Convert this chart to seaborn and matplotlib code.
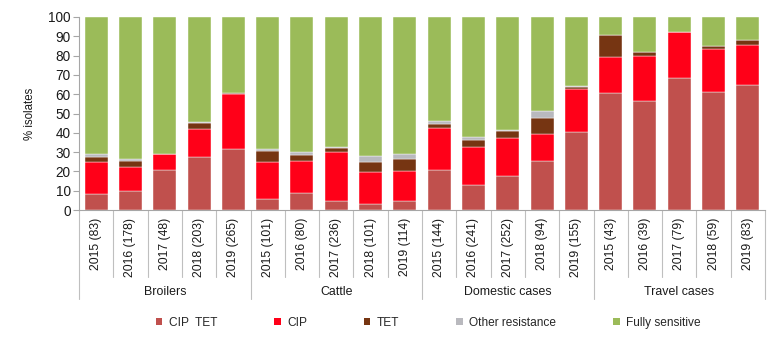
import numpy as np
import pandas as pd
import matplotlib
matplotlib.use("Agg")
import matplotlib.pyplot as plt
import matplotlib.transforms as mtransforms
from matplotlib.patches import Patch
import seaborn as sns

# Categories
groups = ["Broilers", "Cattle", "Domestic cases", "Travel cases"]
year_labels = [
    ["2015 (83)", "2016 (178)", "2017 (48)", "2018 (203)", "2019 (265)"],
    ["2015 (101)", "2016 (80)", "2017 (236)", "2018 (101)", "2019 (114)"],
    ["2015 (144)", "2016 (241)", "2017 (252)", "2018 (94)", "2019 (155)"],
    ["2015 (43)", "2016 (39)", "2017 (79)", "2018 (59)", "2019 (83)"],
]

# Share of isolates (%) per resistance profile
cip_tet = [8.5, 10.0, 20.8, 27.6, 31.6,
           5.7, 9.0, 4.7, 3.3, 4.5,
           20.9, 13.0, 17.8, 25.4, 40.6,
           60.6, 56.6, 68.4, 61.1, 64.9]
cip = [16.5, 12.4, 8.3, 14.2, 28.7,
       19.0, 16.2, 25.5, 16.4, 15.7,
       21.4, 19.8, 19.5, 13.8, 22.1,
       18.7, 23.0, 24.0, 22.1, 20.7]
tet = [2.5, 2.8, 0.0, 3.4, 0.3,
       6.0, 3.5, 1.8, 5.0, 6.1,
       2.1, 3.6, 3.8, 8.6, 1.0,
       11.4, 2.4, 0.0, 1.6, 2.3]
other = [1.3, 1.0, 0.0, 0.6, 0.0,
         0.9, 1.3, 0.6, 3.1, 2.7,
         1.6, 1.4, 0.3, 3.3, 0.7,
         0.0, 0.0, 0.0, 0.0, 0.0]
sensitive = [71.2, 73.8, 70.9, 54.2, 39.4,
             68.4, 70.0, 67.4, 72.2, 71.0,
             54.0, 62.2, 58.6, 48.9, 35.6,
             9.3, 18.0, 7.6, 15.2, 12.1]

series_names = ["CIP  TET", "CIP", "TET", "Other resistance", "Fully sensitive"]
series_colors = ["#C0504D", "#FF0018", "#763512", "#B9B9BE", "#9BBB59"]

keys = [f"{g}|{y}" for g, ys in zip(groups, year_labels) for y in ys]
df = pd.DataFrame({"bar": keys, "CIP  TET": cip_tet, "CIP": cip, "TET": tet,
                   "Other resistance": other, "Fully sensitive": sensitive})

sns.set_theme(style="white")
plt.rcParams["font.family"] = ["Liberation Sans", "DejaVu Sans"]
plt.rcParams["font.size"] = 8.5

fig = plt.figure(figsize=(7.8, 3.44), dpi=100)
ax = fig.add_axes([0.1013, 0.3895, 0.8795, 0.5611])

bottom = np.zeros(len(df))
for name, color in zip(series_names, series_colors):
    sns.barplot(data=df, x="bar", y=name, order=keys, color=color,
                bottom=bottom, width=0.67, saturation=1, ax=ax,
                edgecolor="white", linewidth=0.3)
    bottom = bottom + df[name].to_numpy()

ax.set_xlim(-0.5, len(keys) - 0.5)
ax.set_ylim(0, 100)
ax.set_yticks(range(0, 101, 10))
ax.set_xticks([])
ax.set_xlabel("")
ax.set_ylabel("% isolates", fontsize=8.3, color="#1a1a1a", labelpad=9)
ax.tick_params(axis="y", left=True, length=4, width=0.8, color="#A6A6A6",
               labelsize=9.8, labelcolor="#1a1a1a", pad=2)
for side in ["top", "right"]:
    ax.spines[side].set_visible(False)
for side in ["left", "bottom"]:
    ax.spines[side].set_color("#A6A6A6")
    ax.spines[side].set_linewidth(0.8)

# Two-level category axis: year labels and group labels
trans = mtransforms.blended_transform_factory(ax.transData, ax.transAxes)
n_per = 5
for i, k in enumerate(keys):
    ax.text(i, -0.04, k.split("|")[1], rotation=90, ha="center", va="top",
            fontsize=8.7, color="#1a1a1a", transform=trans)
for b in range(len(keys) + 1):
    x = b - 0.5
    low = -0.461 if b % n_per == 0 else -0.347
    ax.plot([x, x], [0, low], color="#BFBFBF", lw=0.8, transform=trans,
            clip_on=False)
for gi, g in enumerate(groups):
    ax.text(gi * n_per + (n_per - 1) / 2, -0.425, g, ha="center", va="center",
            fontsize=8.9, color="#1a1a1a", transform=trans)

handles = [Patch(facecolor=c, edgecolor="none") for c in series_colors]
fig.legend(handles, series_names, loc="center", bbox_to_anchor=(0.549, 0.061),
           ncol=5, frameon=False, fontsize=8.6, handlelength=0.55,
           handleheight=0.55, handletextpad=0.55, columnspacing=4.75)

fig.savefig("out.png", dpi=100)
